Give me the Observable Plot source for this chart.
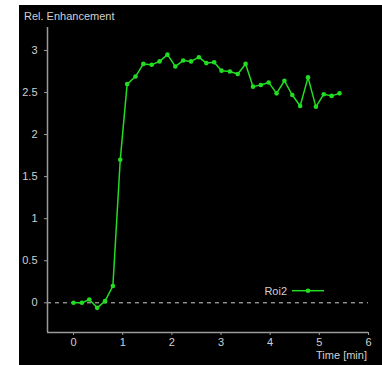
<!DOCTYPE html>
<html>
<head>
<meta charset="utf-8">
<script src="https://cdn.jsdelivr.net/npm/d3@7"></script>
<script src="https://cdn.jsdelivr.net/npm/@observablehq/plot@0.6"></script>
<style>
  html, body { margin: 0; padding: 0; background: #fff; }
  #chart { position: absolute; left: 19px; top: 5px; width: 363px; height: 360px; background: #000; }
  #chart svg { display: block; }
</style>
</head>
<body>
<div id="chart"></div>
<script>
// Time in minutes
const times = [0, 0.17, 0.32, 0.48, 0.64, 0.80, 0.95, 1.09, 1.26, 1.42, 1.59, 1.75, 1.91, 2.07, 2.23, 2.39, 2.55, 2.70, 2.86, 3.01, 3.18, 3.34, 3.50, 3.65, 3.81, 3.97, 4.13, 4.29, 4.45, 4.61, 4.77, 4.93, 5.09, 5.25, 5.41];
// Relative enhancement, Roi2
const roi2 = [0, 0, 0.04, -0.06, 0.02, 0.20, 1.70, 2.60, 2.69, 2.84, 2.83, 2.87, 2.95, 2.81, 2.88, 2.87, 2.92, 2.85, 2.86, 2.76, 2.75, 2.72, 2.84, 2.57, 2.59, 2.62, 2.49, 2.64, 2.47, 2.34, 2.68, 2.33, 2.48, 2.46, 2.49];
const xTicks = [0, 1, 2, 3, 4, 5, 6];
const yTicks = [0, 0.5, 1, 1.5, 2, 2.5, 3];
const xDomain = [-0.53, 6];
const yDomain = [-0.353, 3.273];
const seriesName = "Roi2";
const yLabel = "Rel. Enhancement";
const xLabel = "Time [min]";

const data = times.map((t, i) => ({t, v: roi2[i]}));
const green = "#22dd22";
const axisColor = "#9a9a9a";
const textColor = "#d0d0d0";
const fmt = d => String(d);

const plot = Plot.plot({
  width: 363,
  height: 360,
  marginLeft: 28,
  marginRight: 14,
  marginTop: 22,
  marginBottom: 33,
  style: {background: "#000", color: textColor, fontFamily: "'Liberation Sans', Arial, sans-serif", fontSize: "11px"},
  x: {domain: xDomain},
  y: {domain: yDomain},
  marks: [
    Plot.ruleY([0], {stroke: "#cccccc", strokeDasharray: "4,4", strokeWidth: 1}),
    Plot.ruleX([xDomain[0]], {stroke: axisColor, strokeWidth: 1.5}),
    Plot.ruleY([yDomain[0]], {stroke: axisColor, strokeWidth: 1.5}),
    Plot.axisY(yTicks, {tickSize: 3, tickPadding: 7, stroke: axisColor, fill: textColor, label: null, tickFormat: fmt}),
    Plot.axisX(xTicks, {tickSize: 3, tickPadding: 3, stroke: axisColor, fill: textColor, label: null, tickFormat: fmt}),
    Plot.line(data, {x: "t", y: "v", stroke: green, strokeWidth: 1.5}),
    Plot.dot(data, {x: "t", y: "v", r: 2.3, fill: green, stroke: "none"})
  ]
});
document.getElementById("chart").appendChild(plot);

const svg = d3.select(plot);
const font = "'Liberation Sans', Arial, sans-serif";
svg.append("text").attr("x", 5).attr("y", 15).attr("text-anchor", "start").attr("fill", textColor)
  .attr("font-family", font).attr("font-size", 11).text(yLabel);
svg.append("text").attr("x", 348).attr("y", 354).attr("text-anchor", "end").attr("fill", textColor)
  .attr("font-family", font).attr("font-size", 11).text(xLabel);
const lg = svg.append("g").attr("transform", "translate(268,285.7)");
lg.append("text").attr("x", 0).attr("y", 0).attr("dy", "0.35em").attr("text-anchor", "end").attr("fill", textColor)
  .attr("font-family", font).attr("font-size", 11).text(seriesName);
lg.append("line").attr("x1", 5).attr("x2", 37).attr("y1", 0).attr("y2", 0).attr("stroke", green).attr("stroke-width", 1.5);
lg.append("circle").attr("cx", 21).attr("cy", 0).attr("r", 2.3).attr("fill", green);
</script>
</body>
</html>
